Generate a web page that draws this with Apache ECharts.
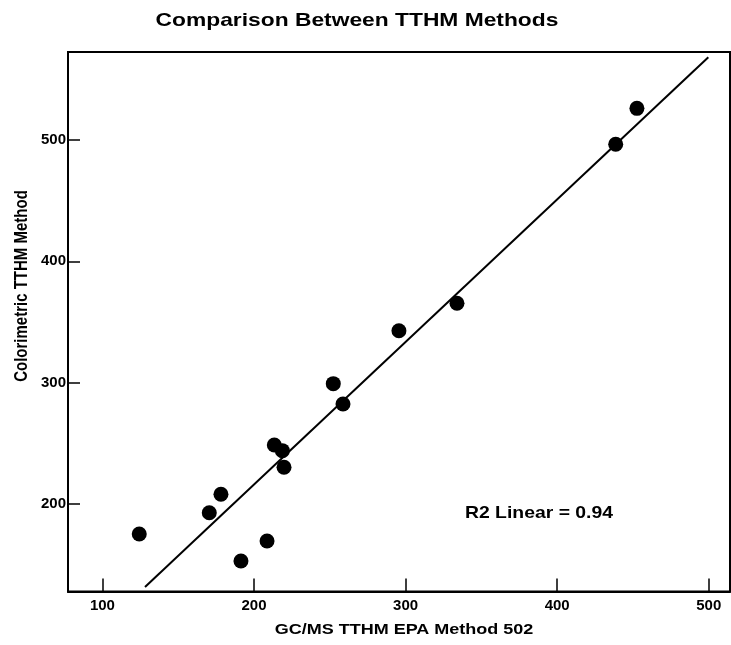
<!DOCTYPE html>
<html>
<head>
<meta charset="utf-8">
<script src="https://cdn.jsdelivr.net/npm/echarts@6/dist/echarts.min.js"></script>
<style>html,body{margin:0;padding:0;background:#fff}#c{width:731px;height:645px}</style>
</head>
<body>
<div id="c"></div>
<script>
// GC/MS TTHM (x) vs Colorimetric TTHM (y)
const gcmsValues = [124.3, 170.5, 178.2, 191.4, 208.6, 213.4, 218.7, 219.8, 252.3, 258.7, 295.6, 333.9, 438.6, 452.6];
const colorimetricValues = [175.4, 192.9, 208.1, 153.1, 169.6, 248.7, 244.0, 230.3, 299.2, 282.4, 342.8, 365.4, 496.4, 526.0];
// Linear fit line endpoints as drawn
const fitX = [128.1, 499.7];
const fitY = [131.7, 568.0];
const xTicks = [100, 200, 300, 400, 500];
const yTicks = [200, 300, 400, 500];
const chartTitle = 'Comparison Between TTHM Methods';
const xName = 'GC/MS TTHM EPA Method 502';
const yName = 'Colorimetric TTHM Method';
const r2Text = 'R2 Linear = 0.94';

const chart = echarts.init(document.getElementById('c'), null, {renderer: 'canvas'});
const pts = gcmsValues.map((v, i) => [v, colorimetricValues[i]]);
const line = fitX.map((v, i) => [v, fitY[i]]);
const tickFont = {color: '#000', fontWeight: 'bold', fontFamily: 'Liberation Sans', fontSize: 15};
const gFont = 'Liberation Sans';
chart.setOption({
  animation: false,
  backgroundColor: '#fff',
  grid: {left: 68, top: 52, width: 662, height: 539.5, show: true, borderColor: '#000', borderWidth: 2, backgroundColor: 'transparent'},
  xAxis: {
    type: 'value', min: 77.3, max: 514.0,
    splitLine: {show: false},
    axisLine: {show: true, lineStyle: {color: '#000', width: 2}},
    axisTick: {show: true, inside: true, length: 13, lineStyle: {color: '#000', width: 1.5}, customValues: xTicks},
    axisLabel: Object.assign({margin: 7, customValues: xTicks}, tickFont)
  },
  yAxis: {
    type: 'value', min: 128, max: 572.4,
    splitLine: {show: false},
    axisLine: {show: true, lineStyle: {color: '#000', width: 2}},
    axisTick: {show: true, inside: true, length: 12, lineStyle: {color: '#000', width: 1.5}, customValues: yTicks},
    axisLabel: Object.assign({margin: 2, customValues: yTicks}, tickFont)
  },
  series: [
    {type: 'line', data: line, symbol: 'none', lineStyle: {color: '#000', width: 2}, z: 2},
    {type: 'scatter', data: pts, symbol: 'circle', symbolSize: 15, itemStyle: {color: '#000', opacity: 1}, z: 3}
  ],
  graphic: [
    {type: 'text', x: 357, y: 21, scaleX: 1.2, style: {text: chartTitle, font: 'bold 19px "' + gFont + '"', fill: '#000', align: 'center', verticalAlign: 'middle'}},
    {type: 'text', x: 404, y: 630, scaleX: 1.2, style: {text: xName, font: 'bold 15px "' + gFont + '"', fill: '#000', align: 'center', verticalAlign: 'middle'}},
    {type: 'text', x: 21.7, y: 286, rotation: Math.PI / 2, scaleY: 1.2, style: {text: yName, font: 'bold 15px "' + gFont + '"', fill: '#000', align: 'center', verticalAlign: 'middle'}},
    {type: 'text', x: 539, y: 513, scaleX: 1.14, style: {text: r2Text, font: 'bold 17px "' + gFont + '"', fill: '#000', align: 'center', verticalAlign: 'middle'}}
  ]
});
</script>
</body>
</html>
